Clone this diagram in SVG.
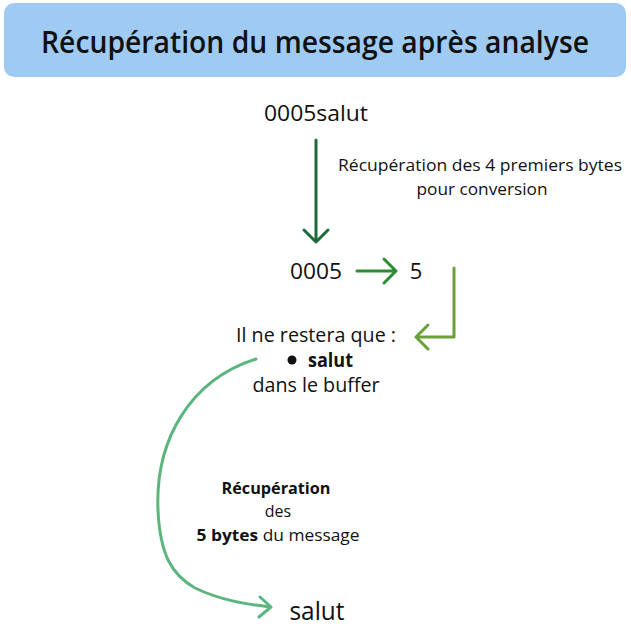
<svg xmlns="http://www.w3.org/2000/svg" width="631" height="632" viewBox="0 0 631 632">
<style>
text{font-family:"Open Sans","Noto Sans","Liberation Sans",sans-serif;fill:#111}
.t{font-size:20px}
.s{font-size:16px}
.b{font-weight:700}
.ln{fill:none;stroke-width:3;stroke-linecap:round;stroke-linejoin:round}
</style>
<rect width="631" height="632" fill="#fff"/>
<g id="title">
<rect x="4" y="3" width="622" height="74" rx="10" fill="#9fcbf3"/>
<text x="315" y="53" text-anchor="middle" font-size="30" font-weight="600" textLength="548" lengthAdjust="spacingAndGlyphs">Récupération du message après analyse</text>
</g>
<g id="n-src"><text x="316" y="121" text-anchor="middle" font-size="22" textLength="104" lengthAdjust="spacingAndGlyphs">0005salut</text></g>
<g id="n-0005"><text x="316" y="279" text-anchor="middle" font-size="22" textLength="52" lengthAdjust="spacingAndGlyphs">0005</text></g>
<g id="n-5"><text x="416" y="279" text-anchor="middle" font-size="22">5</text></g>
<g id="n-rest">
<text x="316" y="342" text-anchor="middle" class="t" textLength="160" lengthAdjust="spacingAndGlyphs">Il ne restera que :</text>
<circle cx="292" cy="360" r="4.5" fill="#111"/>
<text x="308" y="367" class="t b" textLength="45" lengthAdjust="spacingAndGlyphs">salut</text>
<text x="316" y="392" text-anchor="middle" class="t" textLength="127" lengthAdjust="spacingAndGlyphs">dans le buffer</text>
</g>
<g id="n-dst"><text x="317" y="620" text-anchor="middle" font-size="25" textLength="55" lengthAdjust="spacingAndGlyphs">salut</text></g>
<g id="connectors">
<path class="ln" stroke="#1e6b3a" d="M316 140V242M304 230L316 242L328 230"/>
<path class="ln" stroke="#2e8b36" d="M357 271H396M384 259L396 271L384 283"/>
<path class="ln" stroke="#6b9f3a" d="M454 268V337H416M428 325L416 337L428 349"/>
<path class="ln" stroke="#5cb57f" d="M256 359C190 380 155 440 158 510C160 555 172 575 195 588C220 600 245 604 270 607M260 597L271 607L259 617"/>
</g>
<g id="labels">
<text x="480" y="171" text-anchor="middle" class="s" textLength="284" lengthAdjust="spacingAndGlyphs">Récupération des 4 premiers bytes</text>
<text x="482" y="195" text-anchor="middle" class="s" textLength="131" lengthAdjust="spacingAndGlyphs">pour conversion</text>
<text x="276" y="494" text-anchor="middle" class="s b" textLength="109" lengthAdjust="spacingAndGlyphs">Récupération</text>
<text x="278" y="517" text-anchor="middle" class="s">des</text>
<text x="278" y="541" text-anchor="middle" class="s" textLength="163" lengthAdjust="spacingAndGlyphs"><tspan class="b">5 bytes</tspan> du message</text>
</g>
</svg>
